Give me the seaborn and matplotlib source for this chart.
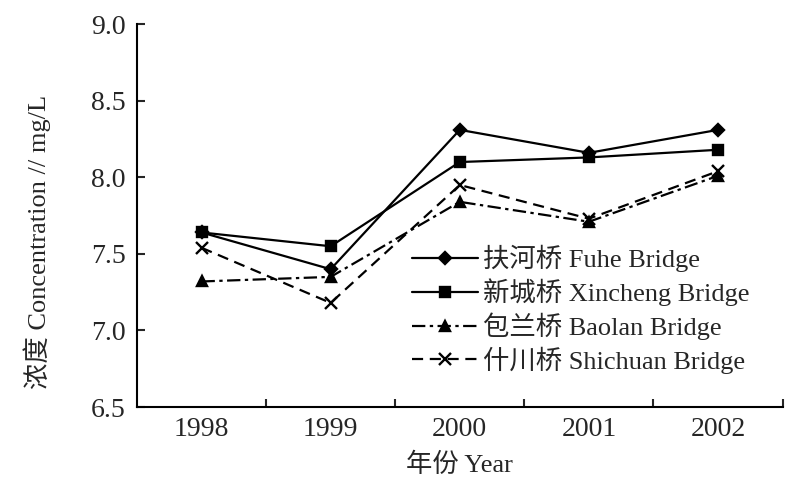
import matplotlib
matplotlib.use("Agg")
import matplotlib.pyplot as plt
import seaborn as sns
import pandas as pd
from matplotlib.ticker import FixedLocator, NullFormatter

years = ["1998", "1999", "2000", "2001", "2002"]
fuhe = [7.64, 7.40, 8.31, 8.16, 8.31]
xincheng = [7.64, 7.55, 8.10, 8.13, 8.18]
baolan = [7.32, 7.35, 7.84, 7.71, 8.01]
shichuan = [7.54, 7.18, 7.95, 7.73, 8.04]
series_names = ["扶河桥 Fuhe Bridge", "新城桥 Xincheng Bridge",
                "包兰桥 Baolan Bridge", "什川桥 Shichuan Bridge"]

sns.set_theme(style="ticks")
plt.rcParams["font.family"] = ["Liberation Serif", "Noto Sans CJK SC"]

fig = plt.figure(figsize=(8.01, 4.84), dpi=100)
ax = fig.add_axes([0.171, 0.159, 0.806, 0.791])

styles = [
    dict(marker="D", markersize=6.5, linestyle="-"),
    dict(marker="s", markersize=7.5, linestyle="-"),
    dict(marker="^", markersize=7.5, linestyle=(0, (6, 2, 1.5, 2))),
    dict(marker="x", markersize=8, linestyle=(0, (5, 3))),
]
positions = list(range(len(years)))
for name, vals, st in zip(series_names, [fuhe, xincheng, baolan, shichuan], styles):
    df = pd.DataFrame({"pos": positions, "value": vals})
    sns.lineplot(data=df, x="pos", y="value", ax=ax, color="black",
                 linewidth=1.6, markeredgewidth=1.7, markeredgecolor="black",
                 label=name, **st)

ax.set_xlim(-0.5, 4.5)
ax.set_ylim(6.5, 9.0)
ax.set_yticks([6.5, 7.0, 7.5, 8.0, 8.5, 9.0])
ax.set_yticklabels(["6.5", "7.0", "7.5", "8.0", "8.5", "9.0"])
ax.xaxis.set_major_locator(FixedLocator([0.5, 1.5, 2.5, 3.5, 4.5]))
ax.xaxis.set_major_formatter(NullFormatter())
ax.xaxis.set_minor_locator(FixedLocator(positions))
ax.set_xticklabels(years, minor=True)
ax.tick_params(axis="x", which="major", direction="in", length=6, width=1.5)
ax.tick_params(axis="x", which="minor", length=0, pad=7, labelsize=20)
ax.tick_params(axis="y", direction="in", length=6, width=1.5, labelsize=20, pad=8)

for s in ["top", "right"]:
    ax.spines[s].set_visible(False)
for s in ["left", "bottom"]:
    ax.spines[s].set_linewidth(1.5)
    ax.spines[s].set_color("black")

ax.set_xlabel("年份 Year", fontsize=19, labelpad=8)
ax.set_ylabel("浓度 Concentration // mg/L", fontsize=19)
ax.yaxis.set_label_coords(-0.133, 0.43)

handles, labels = ax.get_legend_handles_labels()
ax.legend(handles, labels, loc="lower left", bbox_to_anchor=(0.41, 0.06),
          frameon=False, fontsize=19, handlelength=2.5, handletextpad=0.2,
          labelspacing=0.24, borderaxespad=0)

fig.savefig("out.png", dpi=100)
